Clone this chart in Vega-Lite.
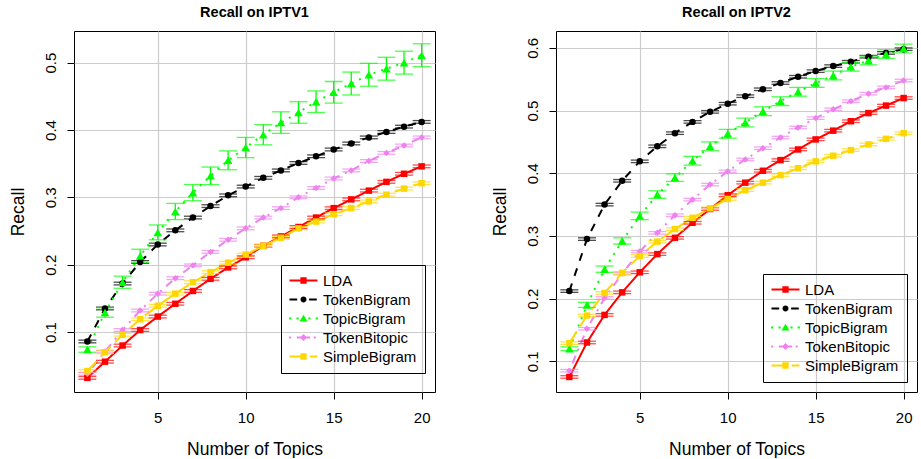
{
  "$schema": "https://vega.github.io/schema/vega-lite/v6.json",
  "padding": {"left": 8, "top": 4, "right": 0, "bottom": 0},
  "spacing": 54,
  "background": "white",
  "resolve": {"scale": {"color": "independent", "shape": "independent", "strokeDash": "independent"}, "legend": {"color": "independent", "shape": "independent", "strokeDash": "independent"}},
  "config": {
    "font": "Liberation Sans",
    "view": {"stroke": "black", "strokeWidth": 1},
    "axis": {"domain": false, "tickColor": "black", "tickSize": 7, "tickWidth": 1, "labelFontSize": 15, "labelColor": "black", "titleFontSize": 17.5, "titleFontWeight": "normal", "titleColor": "black", "gridColor": "#cccccc", "gridWidth": 1.2, "labelFont": "Liberation Sans", "titleFont": "Liberation Sans"},
    "axisY": {"labelAngle": -90, "labelPadding": 9, "titlePadding": 16},
    "axisX": {"labelAngle": 0, "labelPadding": 11, "titlePadding": 15},
    "title": {"fontSize": 14.5, "fontWeight": "bold", "font": "Liberation Sans", "offset": 11, "color": "black"},
    "legend": {"symbolSize": 49, "symbolOffset": 7, "labelOffset": 12, "labelFontSize": 15, "labelFont": "Liberation Sans", "labelColor": "black", "padding": 8, "strokeColor": "black", "fillColor": "transparent", "symbolStrokeWidth": 0, "symbolOpacity": 1, "rowPadding": 3}
  },
  "datasets": {
    "iptv1": [
      {"s":"LDA","k":1,"r":0.032,"e":0.002},{"s":"LDA","k":2,"r":0.056,"e":0.002},{"s":"LDA","k":3,"r":0.080,"e":0.002},{"s":"LDA","k":4,"r":0.103,"e":0.002},{"s":"LDA","k":5,"r":0.123,"e":0.002},{"s":"LDA","k":6,"r":0.142,"e":0.002},{"s":"LDA","k":7,"r":0.161,"e":0.002},{"s":"LDA","k":8,"r":0.179,"e":0.002},{"s":"LDA","k":9,"r":0.196,"e":0.002},{"s":"LDA","k":10,"r":0.211,"e":0.002},{"s":"LDA","k":11,"r":0.228,"e":0.002},{"s":"LDA","k":12,"r":0.242,"e":0.002},{"s":"LDA","k":13,"r":0.256,"e":0.002},{"s":"LDA","k":14,"r":0.270,"e":0.002},{"s":"LDA","k":15,"r":0.284,"e":0.002},{"s":"LDA","k":16,"r":0.297,"e":0.002},{"s":"LDA","k":17,"r":0.310,"e":0.002},{"s":"LDA","k":18,"r":0.323,"e":0.002},{"s":"LDA","k":19,"r":0.335,"e":0.002},{"s":"LDA","k":20,"r":0.346,"e":0.002},
      {"s":"TokenBigram","k":1,"r":0.086,"e":0.002},{"s":"TokenBigram","k":2,"r":0.135,"e":0.002},{"s":"TokenBigram","k":3,"r":0.172,"e":0.002},{"s":"TokenBigram","k":4,"r":0.204,"e":0.002},{"s":"TokenBigram","k":5,"r":0.230,"e":0.002},{"s":"TokenBigram","k":6,"r":0.251,"e":0.002},{"s":"TokenBigram","k":7,"r":0.270,"e":0.002},{"s":"TokenBigram","k":8,"r":0.287,"e":0.002},{"s":"TokenBigram","k":9,"r":0.303,"e":0.002},{"s":"TokenBigram","k":10,"r":0.316,"e":0.002},{"s":"TokenBigram","k":11,"r":0.329,"e":0.002},{"s":"TokenBigram","k":12,"r":0.340,"e":0.002},{"s":"TokenBigram","k":13,"r":0.351,"e":0.002},{"s":"TokenBigram","k":14,"r":0.361,"e":0.002},{"s":"TokenBigram","k":15,"r":0.371,"e":0.002},{"s":"TokenBigram","k":16,"r":0.380,"e":0.002},{"s":"TokenBigram","k":17,"r":0.389,"e":0.002},{"s":"TokenBigram","k":18,"r":0.397,"e":0.002},{"s":"TokenBigram","k":19,"r":0.405,"e":0.002},{"s":"TokenBigram","k":20,"r":0.412,"e":0.002},
      {"s":"TopicBigram","k":1,"r":0.074,"e":0.004},{"s":"TopicBigram","k":2,"r":0.129,"e":0.007},{"s":"TopicBigram","k":3,"r":0.174,"e":0.009},{"s":"TopicBigram","k":4,"r":0.213,"e":0.010},{"s":"TopicBigram","k":5,"r":0.248,"e":0.011},{"s":"TopicBigram","k":6,"r":0.279,"e":0.012},{"s":"TopicBigram","k":7,"r":0.307,"e":0.012},{"s":"TopicBigram","k":8,"r":0.332,"e":0.013},{"s":"TopicBigram","k":9,"r":0.355,"e":0.014},{"s":"TopicBigram","k":10,"r":0.374,"e":0.015},{"s":"TopicBigram","k":11,"r":0.393,"e":0.015},{"s":"TopicBigram","k":12,"r":0.411,"e":0.016},{"s":"TopicBigram","k":13,"r":0.426,"e":0.016},{"s":"TopicBigram","k":14,"r":0.442,"e":0.016},{"s":"TopicBigram","k":15,"r":0.456,"e":0.016},{"s":"TopicBigram","k":16,"r":0.469,"e":0.017},{"s":"TopicBigram","k":17,"r":0.482,"e":0.017},{"s":"TopicBigram","k":18,"r":0.491,"e":0.017},{"s":"TopicBigram","k":19,"r":0.500,"e":0.017},{"s":"TopicBigram","k":20,"r":0.511,"e":0.017},
      {"s":"TokenBitopic","k":1,"r":0.038,"e":0.002},{"s":"TokenBitopic","k":2,"r":0.071,"e":0.002},{"s":"TokenBitopic","k":3,"r":0.103,"e":0.002},{"s":"TokenBitopic","k":4,"r":0.132,"e":0.002},{"s":"TokenBitopic","k":5,"r":0.157,"e":0.002},{"s":"TokenBitopic","k":6,"r":0.180,"e":0.002},{"s":"TokenBitopic","k":7,"r":0.199,"e":0.002},{"s":"TokenBitopic","k":8,"r":0.219,"e":0.002},{"s":"TokenBitopic","k":9,"r":0.237,"e":0.002},{"s":"TokenBitopic","k":10,"r":0.254,"e":0.002},{"s":"TokenBitopic","k":11,"r":0.270,"e":0.002},{"s":"TokenBitopic","k":12,"r":0.284,"e":0.002},{"s":"TokenBitopic","k":13,"r":0.300,"e":0.002},{"s":"TokenBitopic","k":14,"r":0.314,"e":0.002},{"s":"TokenBitopic","k":15,"r":0.328,"e":0.002},{"s":"TokenBitopic","k":16,"r":0.340,"e":0.002},{"s":"TokenBitopic","k":17,"r":0.354,"e":0.002},{"s":"TokenBitopic","k":18,"r":0.366,"e":0.002},{"s":"TokenBitopic","k":19,"r":0.377,"e":0.002},{"s":"TokenBitopic","k":20,"r":0.389,"e":0.002},
      {"s":"SimpleBigram","k":1,"r":0.042,"e":0.002},{"s":"SimpleBigram","k":2,"r":0.070,"e":0.002},{"s":"SimpleBigram","k":3,"r":0.096,"e":0.002},{"s":"SimpleBigram","k":4,"r":0.119,"e":0.002},{"s":"SimpleBigram","k":5,"r":0.139,"e":0.002},{"s":"SimpleBigram","k":6,"r":0.157,"e":0.002},{"s":"SimpleBigram","k":7,"r":0.174,"e":0.002},{"s":"SimpleBigram","k":8,"r":0.189,"e":0.002},{"s":"SimpleBigram","k":9,"r":0.203,"e":0.002},{"s":"SimpleBigram","k":10,"r":0.215,"e":0.002},{"s":"SimpleBigram","k":11,"r":0.228,"e":0.002},{"s":"SimpleBigram","k":12,"r":0.240,"e":0.002},{"s":"SimpleBigram","k":13,"r":0.254,"e":0.002},{"s":"SimpleBigram","k":14,"r":0.264,"e":0.002},{"s":"SimpleBigram","k":15,"r":0.275,"e":0.002},{"s":"SimpleBigram","k":16,"r":0.284,"e":0.002},{"s":"SimpleBigram","k":17,"r":0.294,"e":0.002},{"s":"SimpleBigram","k":18,"r":0.304,"e":0.002},{"s":"SimpleBigram","k":19,"r":0.313,"e":0.002},{"s":"SimpleBigram","k":20,"r":0.321,"e":0.002}
    ],
    "iptv2": [
      {"s":"LDA","k":1,"r":0.075,"e":0.002},{"s":"LDA","k":2,"r":0.130,"e":0.002},{"s":"LDA","k":3,"r":0.174,"e":0.002},{"s":"LDA","k":4,"r":0.210,"e":0.002},{"s":"LDA","k":5,"r":0.242,"e":0.002},{"s":"LDA","k":6,"r":0.271,"e":0.002},{"s":"LDA","k":7,"r":0.297,"e":0.002},{"s":"LDA","k":8,"r":0.321,"e":0.002},{"s":"LDA","k":9,"r":0.343,"e":0.002},{"s":"LDA","k":10,"r":0.365,"e":0.002},{"s":"LDA","k":11,"r":0.385,"e":0.002},{"s":"LDA","k":12,"r":0.404,"e":0.002},{"s":"LDA","k":13,"r":0.421,"e":0.002},{"s":"LDA","k":14,"r":0.438,"e":0.002},{"s":"LDA","k":15,"r":0.454,"e":0.002},{"s":"LDA","k":16,"r":0.468,"e":0.002},{"s":"LDA","k":17,"r":0.483,"e":0.002},{"s":"LDA","k":18,"r":0.496,"e":0.002},{"s":"LDA","k":19,"r":0.508,"e":0.002},{"s":"LDA","k":20,"r":0.520,"e":0.002},
      {"s":"TokenBigram","k":1,"r":0.212,"e":0.002},{"s":"TokenBigram","k":2,"r":0.295,"e":0.002},{"s":"TokenBigram","k":3,"r":0.350,"e":0.002},{"s":"TokenBigram","k":4,"r":0.388,"e":0.002},{"s":"TokenBigram","k":5,"r":0.419,"e":0.002},{"s":"TokenBigram","k":6,"r":0.443,"e":0.002},{"s":"TokenBigram","k":7,"r":0.464,"e":0.002},{"s":"TokenBigram","k":8,"r":0.482,"e":0.002},{"s":"TokenBigram","k":9,"r":0.498,"e":0.002},{"s":"TokenBigram","k":10,"r":0.511,"e":0.002},{"s":"TokenBigram","k":11,"r":0.523,"e":0.002},{"s":"TokenBigram","k":12,"r":0.534,"e":0.002},{"s":"TokenBigram","k":13,"r":0.544,"e":0.002},{"s":"TokenBigram","k":14,"r":0.554,"e":0.002},{"s":"TokenBigram","k":15,"r":0.563,"e":0.002},{"s":"TokenBigram","k":16,"r":0.571,"e":0.002},{"s":"TokenBigram","k":17,"r":0.578,"e":0.002},{"s":"TokenBigram","k":18,"r":0.586,"e":0.002},{"s":"TokenBigram","k":19,"r":0.592,"e":0.002},{"s":"TokenBigram","k":20,"r":0.598,"e":0.002},
      {"s":"TopicBigram","k":1,"r":0.120,"e":0.003},{"s":"TopicBigram","k":2,"r":0.190,"e":0.004},{"s":"TopicBigram","k":3,"r":0.247,"e":0.005},{"s":"TopicBigram","k":4,"r":0.292,"e":0.005},{"s":"TopicBigram","k":5,"r":0.332,"e":0.006},{"s":"TopicBigram","k":6,"r":0.366,"e":0.006},{"s":"TopicBigram","k":7,"r":0.393,"e":0.006},{"s":"TopicBigram","k":8,"r":0.420,"e":0.007},{"s":"TopicBigram","k":9,"r":0.443,"e":0.007},{"s":"TopicBigram","k":10,"r":0.463,"e":0.007},{"s":"TopicBigram","k":11,"r":0.481,"e":0.007},{"s":"TopicBigram","k":12,"r":0.499,"e":0.007},{"s":"TopicBigram","k":13,"r":0.515,"e":0.007},{"s":"TopicBigram","k":14,"r":0.530,"e":0.007},{"s":"TopicBigram","k":15,"r":0.544,"e":0.007},{"s":"TopicBigram","k":16,"r":0.556,"e":0.007},{"s":"TopicBigram","k":17,"r":0.570,"e":0.007},{"s":"TopicBigram","k":18,"r":0.580,"e":0.007},{"s":"TopicBigram","k":19,"r":0.590,"e":0.007},{"s":"TopicBigram","k":20,"r":0.599,"e":0.007},
      {"s":"TokenBitopic","k":1,"r":0.085,"e":0.002},{"s":"TokenBitopic","k":2,"r":0.152,"e":0.002},{"s":"TokenBitopic","k":3,"r":0.201,"e":0.002},{"s":"TokenBitopic","k":4,"r":0.240,"e":0.002},{"s":"TokenBitopic","k":5,"r":0.275,"e":0.002},{"s":"TokenBitopic","k":6,"r":0.305,"e":0.002},{"s":"TokenBitopic","k":7,"r":0.333,"e":0.002},{"s":"TokenBitopic","k":8,"r":0.358,"e":0.002},{"s":"TokenBitopic","k":9,"r":0.382,"e":0.002},{"s":"TokenBitopic","k":10,"r":0.403,"e":0.002},{"s":"TokenBitopic","k":11,"r":0.422,"e":0.002},{"s":"TokenBitopic","k":12,"r":0.440,"e":0.002},{"s":"TokenBitopic","k":13,"r":0.457,"e":0.002},{"s":"TokenBitopic","k":14,"r":0.473,"e":0.002},{"s":"TokenBitopic","k":15,"r":0.488,"e":0.002},{"s":"TokenBitopic","k":16,"r":0.502,"e":0.002},{"s":"TokenBitopic","k":17,"r":0.515,"e":0.002},{"s":"TokenBitopic","k":18,"r":0.527,"e":0.002},{"s":"TokenBitopic","k":19,"r":0.537,"e":0.002},{"s":"TokenBitopic","k":20,"r":0.548,"e":0.002},
      {"s":"SimpleBigram","k":1,"r":0.129,"e":0.002},{"s":"SimpleBigram","k":2,"r":0.173,"e":0.002},{"s":"SimpleBigram","k":3,"r":0.209,"e":0.002},{"s":"SimpleBigram","k":4,"r":0.241,"e":0.002},{"s":"SimpleBigram","k":5,"r":0.268,"e":0.002},{"s":"SimpleBigram","k":6,"r":0.291,"e":0.002},{"s":"SimpleBigram","k":7,"r":0.311,"e":0.002},{"s":"SimpleBigram","k":8,"r":0.329,"e":0.002},{"s":"SimpleBigram","k":9,"r":0.344,"e":0.002},{"s":"SimpleBigram","k":10,"r":0.359,"e":0.002},{"s":"SimpleBigram","k":11,"r":0.373,"e":0.002},{"s":"SimpleBigram","k":12,"r":0.385,"e":0.002},{"s":"SimpleBigram","k":13,"r":0.397,"e":0.002},{"s":"SimpleBigram","k":14,"r":0.408,"e":0.002},{"s":"SimpleBigram","k":15,"r":0.419,"e":0.002},{"s":"SimpleBigram","k":16,"r":0.428,"e":0.002},{"s":"SimpleBigram","k":17,"r":0.437,"e":0.002},{"s":"SimpleBigram","k":18,"r":0.446,"e":0.002},{"s":"SimpleBigram","k":19,"r":0.455,"e":0.002},{"s":"SimpleBigram","k":20,"r":0.464,"e":0.002}
    ]
  },
  "hconcat": [
    {
      "width": 361, "height": 361,
      "title": "Recall on IPTV1",
      "data": {"name": "iptv1"},
      "encoding": {
        "x": {"field": "k", "type": "quantitative", "title": "Number of Topics", "scale": {"domain": [0.24, 20.76], "nice": false, "zero": false}, "axis": {"values": [5, 10, 15, 20]}},
        "y": {"field": "r", "type": "quantitative", "title": "Recall", "scale": {"domain": [0.011, 0.547], "nice": false, "zero": false}, "axis": {"values": [0.1, 0.2, 0.3, 0.4, 0.5], "format": ".1f"}}
      },
      "layer": [
        {"mark": {"type": "point", "filled": true, "opacity": 0},
         "encoding": {
           "shape": {"field": "s", "type": "nominal", "scale": {"domain": ["LDA", "TokenBigram", "TopicBigram", "TokenBitopic", "SimpleBigram"], "range": [
             "M-4,-0.3H4V0.3H-4Z M-0.9,-0.9H0.9V0.9H-0.9Z",
             "M-4,-0.3H-1.8V0.3H-4Z M1.6,-0.3H3.8V0.3H1.6Z M-0.85,0A0.85,0.85 0 1,1 0.85,0A0.85,0.85 0 1,1 -0.85,0Z",
             "M-4.1,-0.3H-3.5V0.3H-4.1Z M-2,-0.3H-1.4V0.3H-2Z M1.4,-0.3H2V0.3H1.4Z M3.5,-0.3H4.1V0.3H3.5Z M0,-1.1L1.15,0.85H-1.15Z",
             "M-4.1,-0.3H-3.5V0.3H-4.1Z M-1.9,-0.3H-0.5V0.3H-1.9Z M0.5,-0.3H1.9V0.3H0.5Z M2.9,-0.3H3.5V0.3H2.9Z M0,-1L1,0L0,1L-1,0Z",
             "M-4,-0.3H0V0.3H-4Z M-0.9,-0.9H0.9V0.9H-0.9Z M1.8,-0.3H4V0.3H1.8Z"
           ]}, "legend": {"orient": "none", "legendX": 207, "legendY": 234, "title": null}},
           "color": {"field": "s", "type": "nominal", "scale": {"domain": ["LDA", "TokenBigram", "TopicBigram", "TokenBitopic", "SimpleBigram"], "range": ["#FF0000", "#000000", "#00FF00", "#EE82EE", "#FFD700"]}, "legend": {"orient": "none", "legendX": 207, "legendY": 234, "title": null}}}},
        {"mark": {"type": "line", "strokeWidth": 2},
         "encoding": {
           "color": {"field": "s", "type": "nominal", "legend": null},
           "strokeDash": {"field": "s", "type": "nominal", "scale": {"domain": ["LDA", "TokenBigram", "TopicBigram", "TokenBitopic", "SimpleBigram"], "range": [[1, 0], [8, 8], [2, 6], [2, 6, 8, 6], [14, 6]]}, "legend": null}}},
        {"mark": {"type": "errorbar", "ticks": {"size": 18, "thickness": 1.3}, "rule": {"strokeWidth": 1.3}},
         "encoding": {"y": {"field": "r", "type": "quantitative", "title": "Recall"}, "yError": {"field": "e"}, "color": {"field": "s", "type": "nominal", "legend": null}}},
        {"mark": {"type": "point", "filled": true, "opacity": 1},
         "encoding": {
           "color": {"field": "s", "type": "nominal", "legend": null},
           "size": {"condition": [{"test": "datum.s === 'TopicBigram'", "value": 75}], "value": 42},
           "shape": {"condition": [{"test": "datum.s === 'TokenBigram'", "value": "circle"}, {"test": "datum.s === 'TopicBigram'", "value": "triangle-up"}, {"test": "datum.s === 'TokenBitopic'", "value": "diamond"}], "value": "square"}}}
      ]
    },
    {
      "width": 361, "height": 361,
      "title": "Recall on IPTV2",
      "data": {"name": "iptv2"},
      "encoding": {
        "x": {"field": "k", "type": "quantitative", "title": "Number of Topics", "scale": {"domain": [0.24, 20.76], "nice": false, "zero": false}, "axis": {"values": [5, 10, 15, 20]}},
        "y": {"field": "r", "type": "quantitative", "title": "Recall", "scale": {"domain": [0.051, 0.627], "nice": false, "zero": false}, "axis": {"values": [0.1, 0.2, 0.3, 0.4, 0.5, 0.6], "format": ".1f"}}
      },
      "layer": [
        {"mark": {"type": "point", "filled": true, "opacity": 0},
         "encoding": {
           "shape": {"field": "s", "type": "nominal", "scale": {"domain": ["LDA", "TokenBigram", "TopicBigram", "TokenBitopic", "SimpleBigram"], "range": [
             "M-4,-0.3H4V0.3H-4Z M-0.9,-0.9H0.9V0.9H-0.9Z",
             "M-4,-0.3H-1.8V0.3H-4Z M1.6,-0.3H3.8V0.3H1.6Z M-0.85,0A0.85,0.85 0 1,1 0.85,0A0.85,0.85 0 1,1 -0.85,0Z",
             "M-4.1,-0.3H-3.5V0.3H-4.1Z M-2,-0.3H-1.4V0.3H-2Z M1.4,-0.3H2V0.3H1.4Z M3.5,-0.3H4.1V0.3H3.5Z M0,-1.1L1.15,0.85H-1.15Z",
             "M-4.1,-0.3H-3.5V0.3H-4.1Z M-1.9,-0.3H-0.5V0.3H-1.9Z M0.5,-0.3H1.9V0.3H0.5Z M2.9,-0.3H3.5V0.3H2.9Z M0,-1L1,0L0,1L-1,0Z",
             "M-4,-0.3H0V0.3H-4Z M-0.9,-0.9H0.9V0.9H-0.9Z M1.8,-0.3H4V0.3H1.8Z"
           ]}, "legend": {"orient": "none", "legendX": 207, "legendY": 243, "title": null}},
           "color": {"field": "s", "type": "nominal", "scale": {"domain": ["LDA", "TokenBigram", "TopicBigram", "TokenBitopic", "SimpleBigram"], "range": ["#FF0000", "#000000", "#00FF00", "#EE82EE", "#FFD700"]}, "legend": {"orient": "none", "legendX": 207, "legendY": 243, "title": null}}}},
        {"mark": {"type": "line", "strokeWidth": 2},
         "encoding": {
           "color": {"field": "s", "type": "nominal", "legend": null},
           "strokeDash": {"field": "s", "type": "nominal", "scale": {"domain": ["LDA", "TokenBigram", "TopicBigram", "TokenBitopic", "SimpleBigram"], "range": [[1, 0], [8, 8], [2, 6], [2, 6, 8, 6], [14, 6]]}, "legend": null}}},
        {"mark": {"type": "errorbar", "ticks": {"size": 18, "thickness": 1.3}, "rule": {"strokeWidth": 1.3}},
         "encoding": {"y": {"field": "r", "type": "quantitative", "title": "Recall"}, "yError": {"field": "e"}, "color": {"field": "s", "type": "nominal", "legend": null}}},
        {"mark": {"type": "point", "filled": true, "opacity": 1},
         "encoding": {
           "color": {"field": "s", "type": "nominal", "legend": null},
           "size": {"condition": [{"test": "datum.s === 'TopicBigram'", "value": 75}], "value": 42},
           "shape": {"condition": [{"test": "datum.s === 'TokenBigram'", "value": "circle"}, {"test": "datum.s === 'TopicBigram'", "value": "triangle-up"}, {"test": "datum.s === 'TokenBitopic'", "value": "diamond"}], "value": "square"}}}
      ]
    }
  ]
}
